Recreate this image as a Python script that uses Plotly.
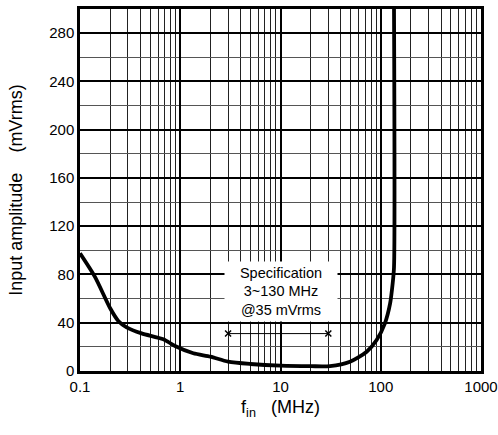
import plotly.graph_objects as go

# curve (frequency in MHz, amplitude in mVrms)
freq_mhz = [0.1, 0.141, 0.2, 0.241, 0.292, 0.412, 0.678, 0.887, 1.35, 2, 3, 5,
            10, 20, 31.2, 49.3, 72.4, 91, 110, 124, 131.5, 135.6, 135.6]
amp_mvrms = [97.5, 78, 52, 41.5, 36.2, 31.2, 26.3, 20.7, 14.7, 11.9, 7.7, 5.8,
             4.4, 4.0, 4.1, 7.7, 16, 25.7, 39.5, 56, 72.6, 86, 300]

spec_freq = [3, 30]
spec_amp = [31, 31]

x_tickvals = [0.1, 1, 10, 100, 1000]
x_ticktext = ["0.1", "1", "10", "100", "1000"]
y_tickvals = [0, 40, 80, 120, 160, 200, 240, 280]

spec_text = "Specification<br>3~130 MHz<br>@35 mVrms"

FONT = "Liberation Sans, Arial, sans-serif"

fig = go.Figure()
fig.add_trace(
    go.Scatter(
        x=freq_mhz,
        y=amp_mvrms,
        mode="lines",
        line=dict(color="black", width=3.8, shape="spline", smoothing=0.7),
        showlegend=False,
    )
)

# white label box over the grid
fig.add_annotation(
    x=1.0,
    y=66,
    xref="x",
    yref="y",
    text=spec_text,
    showarrow=False,
    bgcolor="white",
    width=110,
    height=57,
    font=dict(family=FONT, size=14.5, color="black"),
)

fig.add_trace(
    go.Scatter(
        x=spec_freq,
        y=spec_amp,
        mode="lines+markers",
        line=dict(color="black", width=1),
        marker=dict(symbol="x-thin-open", size=6, line=dict(color="black", width=1.5)),
        showlegend=False,
    )
)

fig.update_layout(
    width=498,
    height=435,
    margin=dict(l=80, r=17, t=9, b=64),
    paper_bgcolor="white",
    plot_bgcolor="white",
    font=dict(family=FONT, size=15, color="black"),
    xaxis=dict(
        type="log",
        range=[-1, 3],
        tickmode="array",
        tickvals=x_tickvals,
        ticktext=x_ticktext,
        ticklabeloverflow="allow",
        showgrid=True,
        gridcolor="black",
        gridwidth=2,
        minor=dict(dtick="D1", showgrid=True, gridcolor="#222", gridwidth=1.2),
        showline=True,
        linecolor="black",
        linewidth=2.5,
        mirror=True,
        ticks="",
        zeroline=False,
        automargin=False,
        title=dict(text="f<sub>in</sub>\u00a0\u00a0\u00a0(MHz)", standoff=7),
    ),
    yaxis=dict(
        range=[0, 300],
        tickmode="array",
        tickvals=y_tickvals,
        showgrid=True,
        gridcolor="black",
        gridwidth=2,
        minor=dict(dtick=20, showgrid=True, gridcolor="#555", gridwidth=1.3),
        showline=True,
        linecolor="black",
        linewidth=2.5,
        mirror=True,
        ticks="",
        zeroline=False,
        automargin=False,
        title=dict(text="Input amplitude\u00a0\u00a0\u00a0\u00a0(mVrms)", standoff=22),
    ),
)

# drop the default page margin so the figure sits at the window's corner
fig.write_html(
    "out.html",
    config={"displayModeBar": False},
    post_script="document.body.style.margin='0';document.body.style.overflow='hidden';",
)
